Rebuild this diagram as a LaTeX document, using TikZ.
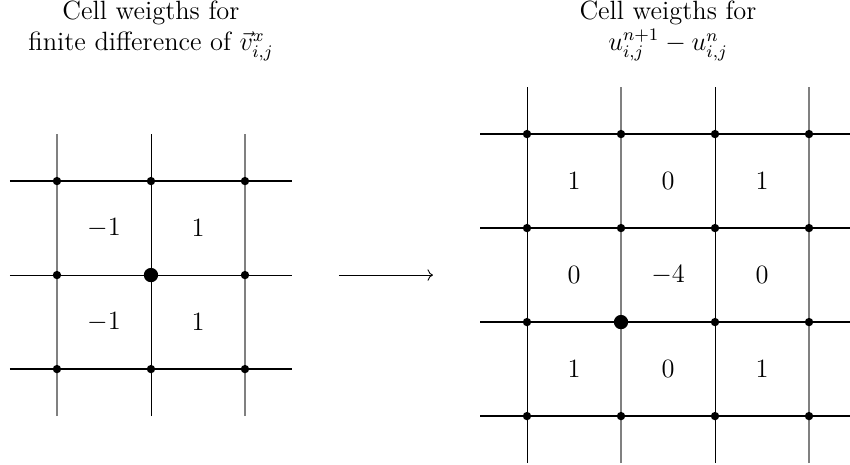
\documentclass[12pt,tikz,border=0pt]{standalone}
\usetikzlibrary{positioning,arrows.meta}

\begin{document}
\begin{tikzpicture}[
  x=1.5cm, y=1.5cm,
  thinline/.style={line width=0.4pt,black},
  greyline/.style={line width=0.6pt,gray},
  boldline/.style={line width=0.7pt,black},
  gridpt/.style={circle,fill,inner sep=0pt,minimum size=3.8pt},
  centerpt/.style={circle,fill,inner sep=0pt,minimum size=6.5pt},
  weight/.style={inner sep=1pt},
  title/.style={align=center}
]
\useasboundingbox (-1.606,-2.01) rectangle (7.436,2.926);

% Left grid
\foreach \x/\s in {-1/greyline,0/thinline,1/greyline}
  \draw[\s] (\x,-1.5) -- (\x,1.5);
\foreach \y/\s in {-1/boldline,0/thinline,1/boldline}
  \draw[\s] (-1.5,\y) -- (1.5,\y);
\foreach \x in {-1,0,1}
  \foreach \y in {-1,0,1}
    \node[gridpt] (lp\x\y) at (\x,\y) {};
\node[centerpt] (lc) at (0,0) {};

\node[weight] (lw1) at (-0.5,0.5) {$-1$};
\node[weight] (lw2) at (0.5,0.5) {$1$};
\node[weight] (lw3) at (-0.5,-0.5) {$-1$};
\node[weight] (lw4) at (0.5,-0.5) {$1$};

\node[title] (ltitle) at (0,2.6) {Cell weigths for\\finite difference of $\vec{v}^x_{i,j}$};

% Arrow
\coordinate (arrowstart) at (2,0);
\coordinate (arrowend) at (3,0);
\draw[->] (arrowstart) -- (arrowend);

% Right grid
\begin{scope}[shift={(5,-0.5)}]
\foreach \x/\s in {-1/thinline,0/greyline,1/thinline,2/greyline}
  \draw[\s] (\x,-1.5) -- (\x,2.5);
\foreach \y in {-1,0,1,2}
  \draw[boldline] (-1.5,\y) -- (2.5,\y);
\foreach \x in {-1,0,1,2}
  \foreach \y in {-1,0,1,2}
    \node[gridpt] (rp\x\y) at (\x,\y) {};
\node[centerpt] (rc) at (0,0) {};

\foreach \w [count=\i] in {1,0,1}
  \node[weight] (rwa\i) at (\i-1.5,1.5) {$\w$};
\foreach \w [count=\i] in {0,-4,0}
  \node[weight] (rwb\i) at (\i-1.5,0.5) {$\w$};
\foreach \w [count=\i] in {1,0,1}
  \node[weight] (rwc\i) at (\i-1.5,-0.5) {$\w$};

\node[title] (rtitle) at (0.5,3.1) {Cell weigths for\\$u^{n+1}_{i,j}-u^n_{i,j}$};
\end{scope}
\end{tikzpicture}
\end{document}
